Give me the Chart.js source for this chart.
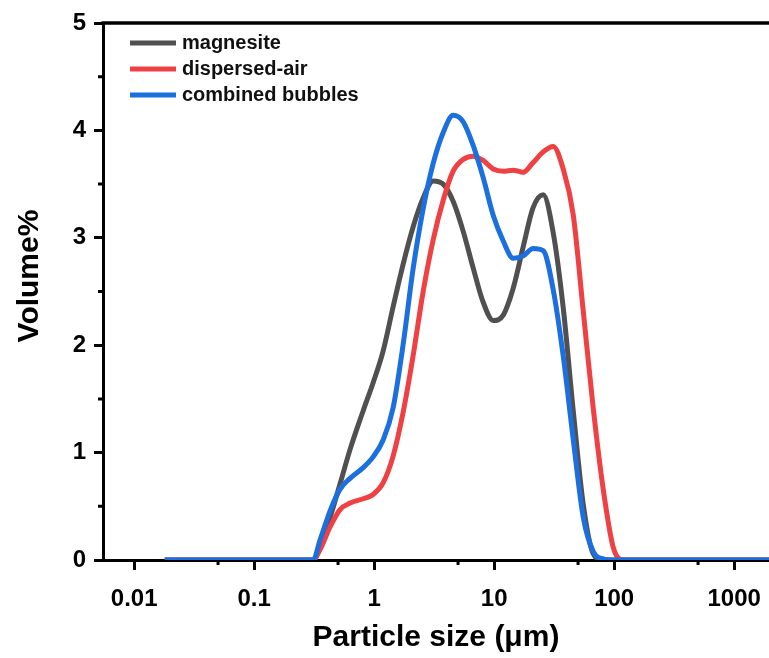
<!DOCTYPE html>
<html>
<head>
<meta charset="utf-8">
<script src="https://cdn.jsdelivr.net/npm/chart.js@4"></script>
<style>
    html, body { margin: 0; padding: 0; background: #fff; }
    #wrap { width: 769px; height: 658px; }
</style>
</head>
<body>
<div id="wrap"><canvas id="psd-chart" width="769" height="658"></canvas></div>
<script>
/* ── Data ───────────────────────────────────────────────────── */
const SIZES = [0.018, 0.31, 0.355, 0.43, 0.52, 0.63, 0.81, 0.98, 1.19, 1.44, 1.74, 2.11, 2.56, 3.1, 3.76,
               4.55, 5.52, 6.68, 8.1, 9.81, 11.9, 14.4, 17.4, 21.1, 25.6, 31.0, 37.6, 45.5, 55.2, 66.8,
               81.0, 98.1, 119, 1950];

const MAGNESITE = [0, 0, 0.12, 0.40, 0.71, 1.03, 1.39, 1.65, 1.95, 2.36, 2.75, 3.10, 3.37, 3.53, 3.50,
                   3.34, 3.06, 2.72, 2.40, 2.23, 2.28, 2.53, 2.91, 3.28, 3.40, 3.05, 2.35, 1.40, 0.52, 0.06,
                   0, 0, 0, 0];

const DISPERSED_AIR = [0, 0, 0.10, 0.31, 0.47, 0.53, 0.57, 0.61, 0.72, 0.97, 1.37, 1.90, 2.50, 2.98, 3.35,
                       3.62, 3.73, 3.76, 3.72, 3.64, 3.62, 3.63, 3.61, 3.70, 3.80, 3.85, 3.64, 3.22, 2.32, 1.42,
                       0.66, 0.12, 0, 0];

const COMBINED = [0, 0, 0.19, 0.46, 0.66, 0.76, 0.86, 0.96, 1.12, 1.42, 2.00, 2.71, 3.27, 3.69, 3.98,
                  4.14, 4.08, 3.86, 3.56, 3.21, 2.97, 2.81, 2.83, 2.90, 2.88, 2.52, 1.90, 1.13, 0.40, 0.08,
                  0.01, 0, 0, 0];

const X_TICKS       = [0.01, 0.1, 1, 10, 100, 1000];
const X_MINOR_TICKS = [0.05, 0.5, 5, 50, 500];
const Y_TICKS       = [0, 1, 2, 3, 4, 5];
const Y_MINOR_TICKS = [0.5, 1.5, 2.5, 3.5, 4.5];

const SERIES = [
    { label: 'magnesite',        values: MAGNESITE,     color: '#505050', order: 3 },
    { label: 'dispersed-air',    values: DISPERSED_AIR, color: '#ef4044', order: 2 },
    { label: 'combined bubbles', values: COMBINED,      color: '#1b6fde', order: 1 },
];

const FONT = '"Liberation Sans", Arial, sans-serif';

/* ── Minor ticks, top frame line, y title, in-plot legend ────── */
const framePlugin = {
    id: 'frame',
    afterDraw(chart) {
        const { ctx, chartArea: area, scales: { x, y } } = chart;
        ctx.save();
        ctx.strokeStyle = '#000';
        ctx.lineWidth = 3;
        ctx.beginPath();
        X_MINOR_TICKS.forEach(v => {
            const px = x.getPixelForValue(v);
            ctx.moveTo(px, area.bottom);
            ctx.lineTo(px, area.bottom + 5);
        });
        Y_MINOR_TICKS.forEach(v => {
            const py = y.getPixelForValue(v);
            ctx.moveTo(area.left, py);
            ctx.lineTo(area.left - 5, py);
        });
        ctx.stroke();

        /* top frame */
        ctx.lineWidth = 3.5;
        ctx.beginPath();
        ctx.moveTo(area.left - 1.5, area.top);
        ctx.lineTo(chart.width, area.top);
        ctx.stroke();

        /* y axis title (sits a bit above the plot centre in the original) */
        ctx.save();
        ctx.translate(30, 276);
        ctx.rotate(-Math.PI / 2);
        ctx.font = 'bold 30px ' + FONT;
        ctx.fillStyle = '#000';
        ctx.textAlign = 'center';
        ctx.textBaseline = 'middle';
        ctx.fillText('Volume%', 0, 0);
        ctx.restore();

        /* legend */
        ctx.font = 'bold 20px ' + FONT;
        ctx.textBaseline = 'middle';
        ctx.fillStyle = '#111';
        SERIES.forEach((s, i) => {
            const ly = 43 + i * 26;
            ctx.strokeStyle = s.color;
            ctx.lineWidth = 5;
            ctx.beginPath();
            ctx.moveTo(130, ly);
            ctx.lineTo(176, ly);
            ctx.stroke();
            ctx.fillText(s.label, 182, ly);
        });
        ctx.restore();
    },
};

/* ── Chart ───────────────────────────────────────────────────── */
new Chart(document.getElementById('psd-chart'), {
    type: 'line',
    data: {
        datasets: SERIES.map(s => ({
            label: s.label,
            data: SIZES.map((sz, i) => ({ x: sz, y: s.values[i] })),
            borderColor: s.color,
            borderWidth: 5,
            pointRadius: 0,
            fill: false,
            cubicInterpolationMode: 'monotone',
            order: s.order,
        })),
    },
    options: {
        responsive: false,
        animation: false,
        layout: { padding: { top: 23, right: 0, left: 0, bottom: 0 } },
        plugins: {
            legend: { display: false },
            tooltip: { enabled: false },
        },
        scales: {
            x: {
                type: 'logarithmic',
                min: 0.0055,
                max: 1950,
                afterBuildTicks: (scale) => { scale.ticks = X_TICKS.map(v => ({ value: v })); },
                afterFit: (scale) => { scale.height = 98; scale.paddingLeft = 0; scale.paddingRight = 0; },
                ticks: {
                    autoSkip: false,
                    maxRotation: 0,
                    padding: 15,
                    color: '#000',
                    font: { family: FONT, size: 24, weight: 'bold' },
                    callback: (v) => String(v),
                },
                grid: { drawOnChartArea: false, tickLength: 10, tickWidth: 3, tickColor: '#000' },
                border: { color: '#000', width: 3 },
                title: {
                    display: true,
                    text: 'Particle size (μm)',
                    color: '#000',
                    font: { family: FONT, size: 30, weight: 'bold' },
                    padding: { top: 0, bottom: 2 },
                },
            },
            y: {
                min: 0,
                max: 5,
                afterBuildTicks: (scale) => { scale.ticks = Y_TICKS.map(v => ({ value: v })); },
                afterFit: (scale) => { scale.width = 103; },
                ticks: {
                    padding: 8,
                    color: '#000',
                    font: { family: FONT, size: 24, weight: 'bold' },
                },
                grid: { drawOnChartArea: false, tickLength: 9, tickWidth: 3, tickColor: '#000' },
                border: { color: '#000', width: 3 },
            },
        },
    },
    plugins: [framePlugin],
});
</script>
</body>
</html>
